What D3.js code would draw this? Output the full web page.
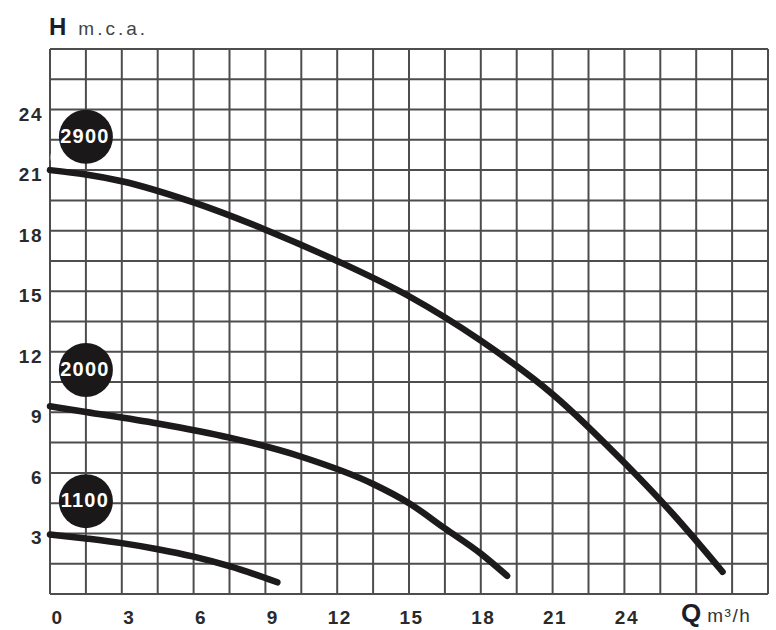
<!DOCTYPE html>
<html>
<head>
<meta charset="utf-8">
<script src="https://cdn.jsdelivr.net/npm/d3@7/dist/d3.min.js"></script>
<style>
  html, body { margin: 0; padding: 0; background: #fff; }
  svg { display: block; }
</style>
</head>
<body>
<svg id="chart" width="776" height="630"></svg>
<script>
// ---- data ----
const xTicks = [0, 3, 6, 9, 12, 15, 18, 21, 24];
const yTicks = [3, 6, 9, 12, 15, 18, 21, 24];
const curve2900 = [[0,21.0],[1.5,20.78],[3,20.45],[6,19.4],[9,18.05],[12,16.5],[15,14.75],[18,12.55],[21,9.9],[24,6.5],[26,4.0],[28.1,1.1]];
const curve2000 = [[0,9.3],[1.5,9.02],[4.5,8.45],[7.5,7.75],[10.5,6.8],[13.5,5.45],[15,4.5],[16.5,3.25],[18,2.0],[19.1,0.9]];
const curve1100 = [[0,2.95],[1.5,2.75],[3,2.52],[4.5,2.22],[6,1.85],[7.5,1.38],[8.5,1.0],[9.5,0.58]];
const badgeLabels = ["2900", "2000", "1100"];
const badgeAnchors = [[1.5, 22.65], [1.5, 11.1], [1.5, 4.6]];

// ---- layout ----
const svg = d3.select("#chart");
const x = d3.scaleLinear().domain([0, 30]).range([50, 768]);
const y = d3.scaleLinear().domain([0, 27]).range([594, 49]);

const gridX = d3.range(0, 30.01, 1.5);
const gridY = d3.range(0, 27.01, 1.5);

// grid
const grid = svg.append("g");
grid.selectAll("line.v").data(gridX).join("line")
  .attr("x1", d => x(d)).attr("x2", d => x(d))
  .attr("y1", y(0)).attr("y2", y(27))
  .attr("stroke", "#4d4d4d").attr("stroke-width", 2);
grid.selectAll("line.h").data(gridY).join("line")
  .attr("y1", d => y(d)).attr("y2", d => y(d))
  .attr("x1", x(0)).attr("x2", x(30))
  .attr("stroke", "#4d4d4d").attr("stroke-width", 2);

// axes (labels only)
const fontFam = "'Liberation Sans', Arial, Helvetica, sans-serif";
const xAxis = svg.append("g").attr("transform", `translate(0,${y(0)})`)
  .call(d3.axisBottom(x).tickValues(xTicks).tickSize(0).tickPadding(17).tickFormat(d3.format("d")));
xAxis.select(".domain").remove();
xAxis.selectAll("text")
  .attr("font-family", fontFam).attr("font-size", 19).attr("font-weight", "bold")
  .attr("letter-spacing", 1.5)
  .attr("fill", "#2a2a2a")
  .attr("dx", d => d < 10 ? 7 : 2);

const yAxis = svg.append("g").attr("transform", `translate(${x(0)},0)`)
  .call(d3.axisLeft(y).tickValues(yTicks).tickSize(0).tickPadding(7).tickFormat(d3.format("d")));
yAxis.select(".domain").remove();
yAxis.selectAll("text")
  .attr("font-family", fontFam).attr("font-size", 19).attr("font-weight", "bold")
  .attr("letter-spacing", 1.5)
  .attr("fill", "#2a2a2a")
  .attr("dy", "0.55em");

// curves
const line = d3.line().x(d => x(d[0])).y(d => y(d[1])).curve(d3.curveMonotoneX);
[curve2900, curve2000, curve1100].forEach(c => {
  svg.append("path").datum(c).attr("d", line)
    .attr("fill", "none").attr("stroke", "#1c1a1a")
    .attr("stroke-width", 6.5).attr("stroke-linecap", "round").attr("stroke-linejoin", "round");
});

// white swoosh near 2900 badge
const bx0 = x(badgeAnchors[0][0]), by0 = y(badgeAnchors[0][1]);
svg.append("path")
  .attr("d", `M${bx0 - 22},${by0 + 5} Q${bx0 - 36},${by0 + 14} ${bx0 - 31},${by0 + 27}`)
  .attr("fill", "none").attr("stroke", "#fff").attr("stroke-width", 6).attr("stroke-linecap", "round");

// badges
const badges = svg.append("g");
badgeLabels.forEach((lab, i) => {
  const cx = x(badgeAnchors[i][0]), cy = y(badgeAnchors[i][1]);
  badges.append("circle").attr("cx", cx).attr("cy", cy).attr("r", 27).attr("fill", "#1a1818");
  badges.append("text").attr("x", cx - 1).attr("y", cy + 1)
    .attr("text-anchor", "middle").attr("dominant-baseline", "middle")
    .attr("font-family", fontFam).attr("font-size", 20).attr("font-weight", "bold")
    .attr("letter-spacing", 1.2)
    .attr("fill", "#fff").text(lab);
});

// axis titles
const hTitle = svg.append("text").attr("x", 49).attr("y", 35)
  .attr("font-family", fontFam);
hTitle.append("tspan").attr("font-size", 24).attr("font-weight", "900").attr("fill", "#1c1c2a").text("H");
hTitle.append("tspan").attr("dx", 12).attr("font-size", 19).attr("fill", "#444").attr("letter-spacing", 3).text("m.c.a.");

const qTitle = svg.append("text").attr("x", 681).attr("y", 622)
  .attr("font-family", fontFam);
qTitle.append("tspan").attr("font-size", 26).attr("font-weight", "900").attr("fill", "#1c1c2a").text("Q");
qTitle.append("tspan").attr("dx", 6).attr("font-size", 19).attr("fill", "#333").attr("letter-spacing", 1.5).text("m³/h");
</script>
</body>
</html>
